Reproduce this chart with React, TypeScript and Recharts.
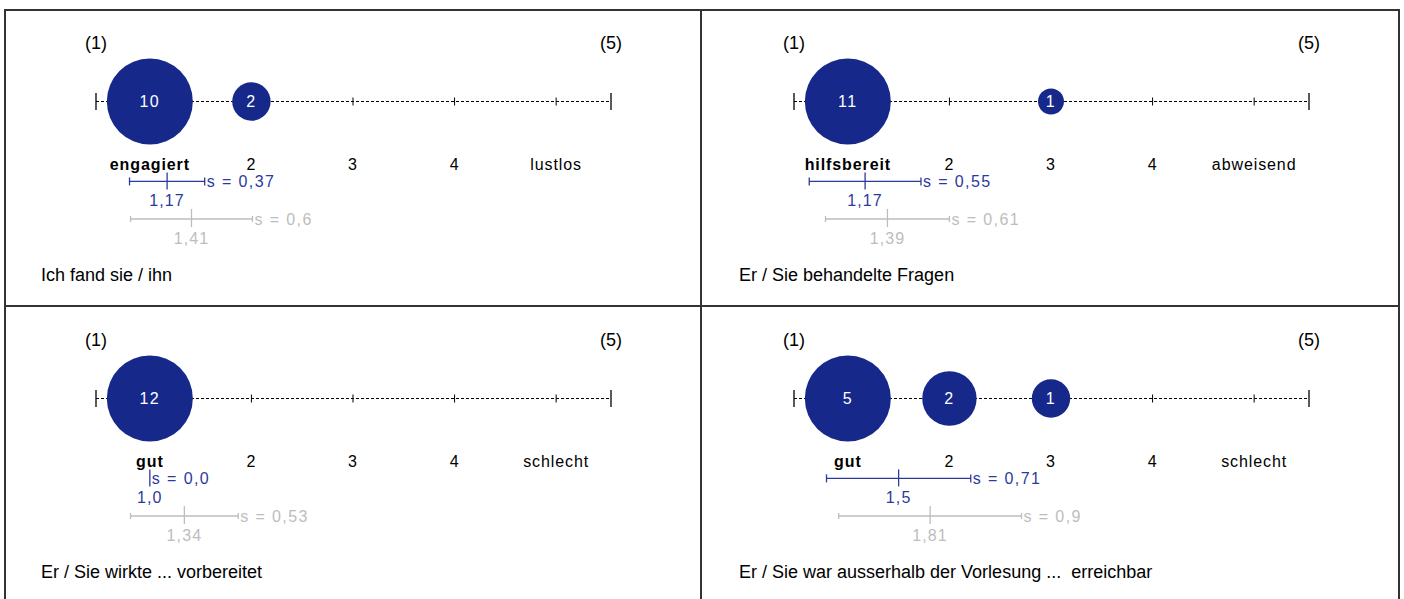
import React from "react";
import { ScatterChart, Scatter, XAxis, YAxis, ZAxis, ErrorBar } from "recharts";

// --- data ---
const questions = [
  "Ich fand sie / ihn",
  "Er / Sie behandelte Fragen",
  "Er / Sie wirkte ... vorbereitet",
  "Er / Sie war ausserhalb der Vorlesung ...  erreichbar",
];
const leftAnchors = ["engagiert", "hilfsbereit", "gut", "gut"];
const rightAnchors = ["lustlos", "abweisend", "schlecht", "schlecht"];
const answerCounts = [
  [10, 2, 0, 0, 0],
  [11, 0, 1, 0, 0],
  [12, 0, 0, 0, 0],
  [5, 2, 1, 0, 0],
];
const sampleMean = [1.17, 1.17, 1.0, 1.5];
const sampleSd = [0.37, 0.55, 0.0, 0.71];
const refMean = [1.41, 1.39, 1.34, 1.81];
const refSd = [0.6, 0.61, 0.53, 0.9];

// --- look ---
const NAVY = "#16288a";
const BLUE = "#2b3a9c";
const GREY = "#bdbdbd";
const FONT = '"Liberation Sans", Arial, sans-serif';

const PANEL_W = 698;
const PANEL_H = 297;
const SCALE_MIN = 0.47;
const SCALE_MAX = 5.54;
const TICKS = [SCALE_MIN, 1, 2, 3, 4, 5, SCALE_MAX];
const BUBBLE_MAX_AREA = Math.PI * 43 * 43;
// vertical rows inside the plot (0 = scale line)
const ROW = { dist: 0, sample: 0.68, reference: 1 };

const fmt = (v: number) => v.toFixed(2).replace(/0$/, "").replace(".", ",");
const isEnd = (v: number) => v === SCALE_MIN || v === SCALE_MAX;

// axis labels only; the dashed line and its marks are a series below the bubbles
function ScaleTick(props: any) {
  const { x, y, payload, leftLabel, rightLabel } = props;
  const v = payload.value;
  if (isEnd(v)) {
    return (
      <text x={x} y={y - 53} textAnchor="middle" fontSize={18} fill="#000">
        {v === SCALE_MIN ? "(1)" : "(5)"}
      </text>
    );
  }
  const label = v === 1 ? leftLabel : v === 5 ? rightLabel : String(v);
  return (
    <text
      x={x}
      y={y + 68}
      textAnchor="middle"
      fontSize={16}
      fontWeight={v === 1 ? 700 : 400}
      fill="#000"
      style={{ letterSpacing: 0.9 }}
    >
      {label}
    </text>
  );
}

function ScaleMark(props: any) {
  const { cx, cy, payload } = props;
  const h = isEnd(payload.x) ? 8.5 : 4;
  return <line x1={cx} x2={cx} y1={cy - h} y2={cy + h} stroke="#000" strokeWidth={isEnd(payload.x) ? 1.3 : 1} />;
}

function Bubble(props: any) {
  const { cx, cy, size, width, payload } = props;
  const r = size ? Math.sqrt(size / Math.PI) : width / 2;
  return (
    <g>
      <circle cx={cx} cy={cy} r={r} fill={NAVY} />
      <text x={cx} y={cy + 5.5} textAnchor="middle" fontSize={16} fill="#fff" style={{ letterSpacing: 1.5 }}>
        {payload.count}
      </text>
    </g>
  );
}

function meanMark(color: string, capTop: number) {
  return (props: any) => {
    const { cx, cy, payload } = props;
    return (
      <g>
        <line x1={cx} x2={cx} y1={cy - capTop} y2={cy + 8} stroke={color} strokeWidth={1.3} />
        <text x={cx} y={cy + 25} textAnchor="middle" fontSize={16} fill={color} style={{ letterSpacing: 1.1 }}>
          {fmt(payload.x)}
        </text>
      </g>
    );
  };
}

function sdLabel(color: string) {
  return (props: any) => {
    const { cx, cy, payload } = props;
    return (
      <text x={cx + 2} y={cy + 6} fontSize={16} fill={color} style={{ letterSpacing: 1.4 }}>
        {"s = " + fmt(payload.s)}
      </text>
    );
  };
}

function Panel({ index }: { index: number }) {
  const col = index % 2;
  const row = Math.floor(index / 2);
  const scaleLine = TICKS.map((x) => ({ x, y: ROW.dist }));
  const dist = answerCounts[index]
    .map((count, i) => ({ x: i + 1, y: ROW.dist, count }))
    .filter((d) => d.count > 0);
  const sample = [{ x: sampleMean[index], y: ROW.sample, s: sampleSd[index] }];
  const reference = [{ x: refMean[index], y: ROW.reference, s: refSd[index] }];
  const sampleSdPos = [{ x: sampleMean[index] + sampleSd[index], y: ROW.sample, s: sampleSd[index] }];
  const refSdPos = [{ x: refMean[index] + refSd[index], y: ROW.reference, s: refSd[index] }];
  const maxCount = Math.max(...answerCounts[index]);

  return (
    <div
      style={{
        position: "absolute",
        left: 4 + col * PANEL_W,
        top: 9 + row * PANEL_H,
        width: PANEL_W,
        height: PANEL_H,
      }}
    >
      <ScatterChart width={PANEL_W} height={PANEL_H} margin={{ top: 72.5, right: 91, bottom: 87, left: 92 }}>
        <XAxis
          type="number"
          dataKey="x"
          orientation="top"
          domain={[SCALE_MIN, SCALE_MAX]}
          ticks={TICKS}
          interval={0}
          height={20}
          tickSize={0}
          tickMargin={0}
          tickLine={false}
          axisLine={false}
          tick={(p: any) => (
            <ScaleTick {...p} leftLabel={leftAnchors[index]} rightLabel={rightAnchors[index]} />
          )}
        />
        <YAxis type="number" dataKey="y" domain={[0, 1]} reversed hide />
        <ZAxis type="number" dataKey="count" domain={[0, maxCount]} range={[0, BUBBLE_MAX_AREA]} />
        <Scatter
          data={scaleLine}
          shape={ScaleMark}
          line={{ stroke: "#000", strokeDasharray: "3 2", strokeWidth: 1 }}
          isAnimationActive={false}
        />
        <Scatter data={dist} shape={Bubble} isAnimationActive={false} />
        <Scatter data={reference} shape={meanMark(GREY, 10)} isAnimationActive={false}>
          <ErrorBar dataKey="s" direction="x" width={3} stroke={GREY} strokeWidth={1.3} />
        </Scatter>
        <Scatter data={sample} shape={meanMark(BLUE, 9)} isAnimationActive={false}>
          <ErrorBar dataKey="s" direction="x" width={4} stroke={BLUE} strokeWidth={1.3} />
        </Scatter>
        <Scatter data={refSdPos} shape={sdLabel(GREY)} isAnimationActive={false} />
        <Scatter data={sampleSdPos} shape={sdLabel(BLUE)} isAnimationActive={false} />
      </ScatterChart>
      <div
        style={{
          position: "absolute",
          left: 37,
          top: 257,
          fontSize: 18,
          lineHeight: "18px",
          whiteSpace: "pre",
          color: "#000",
        }}
      >
        {questions[index]}
      </div>
    </div>
  );
}

export default function App() {
  return (
    <div
      style={{
        position: "absolute",
        left: 0,
        top: 0,
        width: 1404,
        height: 599,
        overflow: "hidden",
        background: "#fff",
        fontFamily: FONT,
      }}
    >
      {questions.map((_, i) => (
        <Panel key={i} index={i} />
      ))}
      <div
        style={{
          position: "absolute",
          left: 4,
          top: 9,
          width: 1396,
          height: 620,
          border: "2px solid #333",
          boxSizing: "border-box",
          pointerEvents: "none",
        }}
      />
      <div style={{ position: "absolute", left: 700, top: 9, width: 2, height: 600, background: "#333" }} />
      <div style={{ position: "absolute", left: 4, top: 305, width: 1396, height: 2, background: "#333" }} />
    </div>
  );
}
